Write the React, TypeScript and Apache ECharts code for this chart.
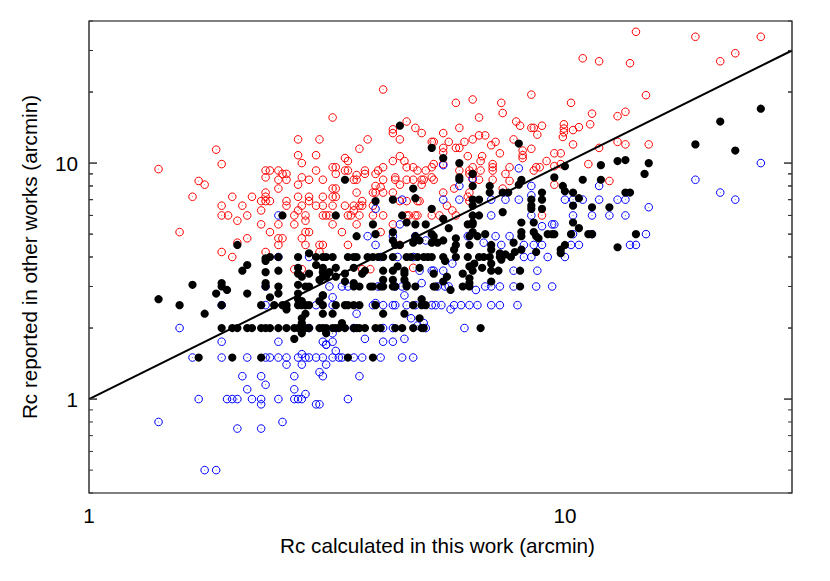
import React, { useEffect, useRef } from "react";
import * as echarts from "echarts";

type P = [number, number];

const redPoints: P[] = [
[1.4,9.43],[1.85,11.4],[1.9,9.9],[1.7,8.4],[1.75,8.1],[1.65,7.2],[1.55,5.1],[1.9,6.6],[1.9,6],[1.96,6],[2,7.2],[2.1,6.6],[2.15,6],[2.2,7.2],[2.05,5.7],[2.3,6.3],[2.3,6.9],[2.3,5.5],[2.35,7.5],[2.35,7.2],[2.35,6.9],[2.4,6.9],[2.35,8.7],[2.35,9.3],[2.4,9.3],[2.5,9.3],[2.5,8.5],[2.5,7.8],[2.55,9],[2.6,9],[2.6,8.5],[2.6,6.9],[2.6,6.6],[2.5,5.5],[2.4,5.1],[2.5,4.8],[2.55,4.8],[2.5,4.5],[2.15,4.8],[2.05,4.6],[1.9,4.2],[2,4],[2.35,4.2],
[2.75,12.6],[3.05,12.6],[2.75,10.8],[3,10.8],[2.8,10],[3,9.3],[2.8,8.7],[2.75,8.1],[2.9,8.5],[3.1,8.5],[2.75,7.2],[2.9,7.2],[2.9,6.9],[3.1,7.2],[2.8,6.6],[3,6.6],[3.1,6.6],[2.75,6.3],[2.7,6],[2.85,6],[3.1,6],[3.15,6],[2.85,5.7],[2.7,5.5],[2.85,5.1],[2.9,5.1],[2.8,4.8],[2.85,4.5],[3.05,4.5],[3.1,4.5],[3.05,4.2],
[4.15,20.5],[3.25,15.6],[4.65,15],[4.35,13.9],[4.35,13.4],[4.85,14.1],[5,13.4],[4.5,12.6],[3.85,12.6],[3.7,11.5],[5.25,12.3],[5.3,12.3],[5.55,13.4],[6,14.1],[5.9,18],[6.4,18.6],[6.6,15.6],[7.35,18],[7.4,16.3],[8.5,19.5],[7.9,15],[8.05,14.4],[8.5,14.1],[8.6,14.1],[8.95,14.4],[8.75,13.2],[7.8,12.6],[8.5,11.5],[8.15,11.3],[8.15,10.8],[8.15,10.5],[6.4,12.6],[6.6,13.1],[6.8,13.1],[6.15,12.3],[5.7,12.3],[7.15,12.3],[7,11.9],[5.9,11.6],[6,11.6],[5.55,11.6],[5.55,11.1],[6.25,10.7],[6.7,10.7],[7.3,11],[4.5,10.7],[4.6,10.2],[4.35,10.2],[3.45,10.5],[3.5,10.2],
[3.25,9.6],[3.3,9.6],[3.3,9],[3.45,9.3],[3.5,9.3],[3.8,9.3],[3.8,9],[4.05,9.3],[4.15,9.6],[4,9],[4.65,9.6],[4.8,9.6],[4.9,9.3],[5.1,9.3],[5.25,9.6],[5.3,9.9],[5.55,9.9],[6,9.3],[6.65,10.2],[6.4,9.6],[6.3,9.3],[6.3,9],[6.4,9],[6.65,9.3],[7.05,9.9],[7.05,9.6],[7.05,9.3],[7.65,9.6],[7.5,9],[7.65,8.4],[7.05,8.5],[8.7,9.6],[8.85,9.6],[9.15,10.2],[9.5,11],[8.6,9.3],[6.4,8.5],[6.6,8.5],[3.65,8.9],[3.6,8.5],[3.65,8.5],[4.4,8.7],[4.4,8.5],[4.15,8.5],[4.5,8.1],[4.65,8.5],[4.8,8.5],[5,8.5],[5,8.1],[5.05,8.5],[5.25,8.7],[5.3,8.5],
[4,8],[4.1,7.9],[3.95,7.5],[4,7.5],[4.15,7.5],[4.35,7.5],[3.25,7.8],[3.3,7.8],[3.25,7.2],[3.3,7.2],[3.65,7.5],[3.45,6.6],[3.25,6.6],[3.6,6.6],[3.75,6.9],[3.75,6.6],[3.7,6.6],[3.6,6.3],[3.2,6],[3.5,6],[3.55,6],[3.7,6],[3.95,6.6],[3.95,6],[4.15,6],[4.5,6.9],[4.65,6.9],[4.9,6.9],[4.95,6.9],[4.65,6],[4.7,6],[4.85,6],[4.9,6],[5.25,6],[5.45,6],[5.65,6.6],[5.8,6.3],[5.9,6],[5.55,7.5],[5.85,7.8],[6.25,7.2],[6.3,7.5],[6.3,6.9],[7.4,7.8],[8.95,6],[3.25,5.5],[3.4,5.1],[3.65,5.5],[3.5,4.5],[4.1,5.1],[4.35,5.5],[4.5,4.5],[2.7,3.55],[2.8,3.55],[3.1,3.2],[3.9,3.55],[3.75,3.55],[4.8,3.6],
[14.1,36],[18.8,34.3],[25.8,34.3],[22.8,29.2],[21.2,27],[10.9,27.8],[11.8,27],[13.7,26.5],[14.8,19.4],[10.3,18],[11.4,16.2],[13.4,16.5],[12.9,15.8],[11.3,14.6],[9.95,14.6],[9.95,14],[9.95,13.5],[9.9,12.9],[10.4,13.8],[10.7,14.2],[10.4,12],[11.8,11.6],[12.9,12.3],[13.4,12],[15,12],[9.8,11],[9.8,9.9],[9.5,9.7],[11.2,9.9],[12.4,8.4],[9.5,8.1],
];

const bluePoints: P[] = [
[2.5,6],[2.5,4],[2.9,4],[4.55,7],[4,6.4],[5.55,9.8],[5.55,7],[6,7],[6,8],[6.4,8.6],[8,9.5],[7,7],[8,7],[7.5,7],[8.5,8],[8.5,7.3],[7,6],[8.5,6],[9.4,5.5],[8.95,5.4],[4.5,5.5],[3.85,4.9],[4.35,4.9],[4.85,4.9],[4,4.5],[5.1,4.7],[6.25,4.9],[7.15,4.9],[7.65,4.9],[6.75,4.6],[7.35,4.5],[8.2,4.5],[8.6,4.5],[8.95,4.5],[4.45,4],[4.8,4],[4.1,4],[8.5,4],[8.2,4],[9.2,4],
[25.8,10],[18.8,8.5],[21.2,7.5],[22.8,7],[11.8,8],[10,7],[10.4,7],[10.9,7],[11.8,7],[12.9,7],[13.4,7],[15,6.5],[10.4,6],[11.4,6],[12.4,6],[13.4,6],[9.5,5.5],[10.4,5],[11.4,5],[14.8,5],[10.3,4.5],[10.7,4.5],[13.7,4.5],[14.1,4.5],[10,4],
[1.55,2],[1.65,1.5],[1.9,1.5],[2.15,1.5],[2.35,1.5],[2.4,1.5],[2.5,1.5],[2.6,1.5],[2.75,1.5],[2.85,1.5],[2.9,1.5],[3,1.5],[3.1,1.5],[2.8,1.55],[2.6,1.4],[2.8,1.4],[3.15,1.4],[3.05,1.3],[3.1,1.25],[1.9,1.75],[2.5,1.75],[3.1,1.75],[3.15,1.7],[1.9,2.5],[2.35,2.5],[3,2.5],[2.35,3],[3.2,3],[2.1,1.25],[2.3,1.25],[2.7,1.25],[2.35,1.15],[2.15,1.1],[2.7,1.1],[2.85,1.05],[1.7,1],[1.95,1],[2,1],[2.05,1],[2.2,1],[2.3,1],[2.5,1],[2.7,1],[2.75,1],[2.8,1],[2.3,0.95],[3,0.95],[1.4,0.8],[2.55,0.8],[2.05,0.75],[2.3,0.75],[1.75,0.5],[1.85,0.5],[2.9,2],
[3.4,3],[3.5,3],[4.05,3],[4.4,3],[4.55,3],[5.4,3],[5.6,3],[5.7,3],[6.8,3],[7,3],[7.3,3],[7.8,3],[8.7,3],[9.4,3],[6.5,2.9],[4.6,2.75],[3.25,2.7],[5,3.1],[5.8,3.75],[5.55,3.5],[5.25,3.5],[5.3,3.5],[4.95,3.5],[7.8,3.5],[8.75,3.5],
[3.95,2.5],[4.15,2.5],[4.35,2.5],[4.4,2.5],[4.65,2.5],[4.85,2.5],[5.25,2.5],[5.35,2.5],[5.5,2.5],[5.85,2.5],[6.05,2.5],[6.3,2.5],[6.55,2.5],[7,2.5],[7.3,2.5],[7.95,2.5],[3.25,2.5],[4,2.55],[5.75,2.4],[3.65,2.3],[4.75,2.2],[5.05,2.1],[4.9,2.05],[3.6,2],[4.15,2],[4.35,2],[5.1,2],[6.15,2],[3.25,1.9],[3.8,1.8],[4.6,1.8],[4.15,1.75],[4.35,1.75],[3.25,1.75],[3.15,1.7],[3.3,1.6],
[3.25,1.5],[3.35,1.5],[3.4,1.5],[3.6,1.5],[3.75,1.5],[4.1,1.5],[4.55,1.5],[4.8,1.5],[3.7,1.25],[3.5,1],[3.05,0.95],
];

const blackPoints: P[] = [
[2.05,4.5],[2.55,6],[2.35,3.95],[2.4,4],[2.5,4],[2.75,4],[2.9,4.15],[3,4],[3.1,4],[3.15,4],
[4.5,14.4],[5.25,11.6],[5.55,10.5],[6,10],[6.4,9],[8,12.1],[3.45,8.5],[6,8.7],[6,8.5],[4.8,7.8],[4.85,7.1],[4.35,7],[4,6.9],[3.3,6],[5.25,6.4],[6.4,8],[6.95,8],[6.95,7.5],[7.4,7.5],[7.6,7.5],[8,8.1],[8.1,8.5],[6.4,7],[6.6,7],[6.4,6.6],[8.5,7],[8.5,6.6],[8.5,6.4],[8.95,7.5],[8.95,7],[8.95,6.4],[7.4,6.2],[6.4,6],[6.6,6],[5.55,5.8],[4.55,6],[4.65,5.6],[4.85,5.5],[5.1,5.5],[5.7,5.3],[6.25,5.5],[6.4,5.6],[6.4,5.5],[6.4,5.1],[3.95,5.5],[4,5],[3.65,4.9],[4.35,5.1],[8.1,5.6],[8.1,5.1],[8.1,4.9],[8.6,5.6],[8.6,5.1],[8.7,4.9],[8.8,4.8],[9.2,5],[9.4,5],[6.3,4.9],[6.55,4.9],[6.8,5],[5.25,5],[5.3,4.9],[4.85,4.9],[4.8,4.6],[4.95,4.7],[4.35,4.7],[4.4,4.5],[4.5,4.5],[5.25,4.6],[5.55,4.7],[5.4,4.6],[5.9,4.8],[5.9,4.5],[5.85,4.3],[6.3,4.5],[7,4.5],[7,4.3],[7.8,4.6],[8.1,4.3],[7.85,4.2],[7.3,4.15],[7.5,4.1],[8.7,4.2],
[3.25,4],[3.5,4],[3.6,4],[3.65,4],[3.85,4],[3.95,4],[4.05,4],[4.15,4],[4.35,4],[4.65,4],[4.75,4],[4.9,4],[5.05,4],[5.15,4],[5.25,4],[5.55,4],[5.9,4],[6.25,4],[6.6,4],[6.75,4],[6.95,4],[7.3,4],[7.7,4],[5.6,3.85],[7.35,3.9],
[25.8,17],[21.2,15],[18.8,12],[22.8,11.3],[15,10],[12.9,10.2],[13.4,10.3],[11.9,9.8],[10,9.7],[14.7,9],[11.9,8.5],[10.9,8.5],[9.5,8.7],[9.9,8],[10,7.6],[10.4,7.5],[10.7,7.1],[13.4,7.5],[13.7,7.5],[10.4,6.6],[11.4,6.5],[12.4,6.5],[10.4,5.6],[10.7,5.3],[9.5,5],[10.3,5],[11.2,5],[11.4,5],[14.1,5],[12.9,4.4],[10,4.5],[9.8,4.3],[9.8,4.15],
[1.4,2.65],[1.55,2.5],[1.65,3.05],[1.75,2.3],[1.9,3.1],[1.9,3],[1.95,2.9],[1.85,2.8],[2.15,2.8],[2.1,3.5],[2.15,3.7],[1.9,2.5],[2.3,2.5],[2.35,3.45],[2.35,3.85],[2.35,3.1],[2.35,3],[2.5,3.5],[2.5,3],[2.5,2.8],[2.4,2.7],[2.45,2.5],[2.55,2.5],[2.6,2.5],[2.6,2.4],[2.75,3.6],[2.75,3.4],[2.8,3.3],[2.75,3.05],[2.75,2.8],[2.75,2.65],[2.75,2.5],[2.8,2.6],[2.85,3],[2.9,3],[2.9,3.4],[3,3.7],[3.05,3.2],[3.1,3.3],[3.15,3.3],[3.05,2.6],[3.1,2.75],[3.1,2.5],[2.8,2.5],[2.85,2.5],[2.9,2.5],[3.1,2.3],[2.85,2.3],[2.8,2.2],[2.8,2.1],
[1.9,2],[2,2],[2.05,2],[2.15,2],[2.2,2],[2.3,2],[2.35,2],[2.4,2],[2.5,2],[2.6,2],[2.7,2],[2.75,2],[2.8,2],[2.85,2],[2.9,2],[3.1,2],[3.15,2],[2.8,1.9],[2.7,1.8],[3.15,1.9],[1.7,1.5],[2,1.5],[2.3,1.5],
[4.95,3.6],[3.6,3.6],[3.1,3.6],[3.3,3.6],[3.2,3.45],[3.1,3.45],[3.3,3.3],[3.45,3.4],[3.8,3.5],[3.75,3.4],[4.45,3.65],[4.35,3.5],[4.15,3.5],[4.15,3.2],[4.6,3.5],[4.6,3.4],[4.6,3.2],[4.65,3.05],[4.35,3.2],[5.3,3.4],[5.65,3.3],[5.55,3.15],[6.1,3.4],[6.3,3.65],[6.45,3.75],[6.7,3.6],[6.3,3.25],[6.3,3.1],[6.3,3],[6.4,3.5],[7,3.75],[7,3.5],[7.25,3.5],[8.05,3.5],[7,3.15],[3.45,3.15],
[3.6,3.1],[3.6,3],[3.7,3],[3.9,3],[3.95,3],[4.1,3],[4.15,3],[4.35,3],[4.4,3],[4.65,3],[4.85,3],[5.3,3],[5.35,3],[6.1,3],[8.05,3],[5.75,2.9],
[3.1,2.75],[3.3,2.5],[3.45,2.5],[3.5,2.5],[3.6,2.5],[3.7,2.5],[4,2.5],[4.8,2.5],[5,2.5],[5.1,2.5],[5,2.65],[3.25,2.3],[4.15,2.3],[4.6,2.3],[4.95,2.2],[3.4,2.1],
[3.05,2],[3.25,2],[3.3,2],[3.35,2],[3.45,2],[3.6,2],[3.65,2],[3.7,2],[3.8,2],[4,2],[4.1,2],[4.4,2],[4.55,2],[4.8,2],[5,2],[5.05,2],[6.65,2],[3.5,1.5],[3.95,1.5],
];

const diagonal: P[] = [[1, 1], [30, 30]];
const xMajorTicks = [1, 10];
const xMinorTicks = [2, 3, 4, 5, 6, 7, 8, 9, 20, 30];
const yMajorTicks = [1, 10];
const yMinorTicks = [0.4, 0.5, 0.6, 0.7, 0.8, 0.9, 2, 3, 4, 5, 6, 7, 8, 9, 20, 30, 40];
const xTitle = "Rc calculated in this work (arcmin)";
const yTitle = "Rc reported in other works (arcmin)";

const FONT = "'Liberation Sans', Arial, sans-serif";
const FS = 20.7;

export default function App() {
  const ref = useRef<HTMLDivElement>(null);
  useEffect(() => {
    document.body.style.margin = "0";
    const chart = echarts.init(ref.current!, null, { renderer: "svg" });
    const XMIN = 1, XMAX = 30, YMIN = 0.4, YMAX = 40;
    const tickData: any[] = [
      ...xMajorTicks.map((v) => ["x", v, 8]),
      ...xMinorTicks.map((v) => ["x", v, 4]),
      ...yMajorTicks.map((v) => ["y", v, 8]),
      ...yMinorTicks.map((v) => ["y", v, 4]),
    ];
    const label = (v: number) =>
      Math.abs(v - 1) < 1e-6 ? "1" : Math.abs(v - 10) < 1e-6 ? "10" : "";
    const open = (data: P[], color: string) => [
      {
        type: "scatter", data, symbol: "circle", symbolSize: 7.6,
        itemStyle: { color: "rgba(0,0,0,0)", borderColor: color, borderWidth: 1, opacity: 1 },
        silent: true,
      },
      {
        type: "scatter", data, symbol: "circle", symbolSize: 1,
        itemStyle: { color, opacity: 0.6 }, silent: true,
      },
    ];
    chart.setOption({
      animation: false,
      backgroundColor: "#fff",
      grid: { left: 89, top: 21, width: 703, height: 472, show: true, borderColor: "#000", borderWidth: 1.2, backgroundColor: "transparent" },
      xAxis: {
        type: "log", logBase: 10, min: XMIN, max: XMAX,
        name: xTitle, nameLocation: "middle", nameGap: 42,
        nameTextStyle: { fontFamily: FONT, fontSize: FS, color: "#000", padding: [0, 6, 0, 0] },
        axisLine: { show: false }, axisTick: { show: false }, splitLine: { show: false },
        axisLabel: { formatter: label, fontFamily: FONT, fontSize: FS, color: "#000", margin: 12, hideOverlap: false },
      },
      yAxis: {
        type: "log", logBase: 10, min: YMIN, max: YMAX,
        name: yTitle, nameLocation: "middle", nameGap: 49,
        nameTextStyle: { fontFamily: FONT, fontSize: FS, color: "#000" },
        axisLine: { show: false }, axisTick: { show: false }, splitLine: { show: false },
        axisLabel: { formatter: label, fontFamily: FONT, fontSize: FS, color: "#000", margin: 11, hideOverlap: false },
      },
      series: [
        ...open(redPoints, "#ff0000"),
        ...open(bluePoints, "#0000ff"),
        {
          type: "line", data: diagonal, showSymbol: false, silent: true,
          lineStyle: { color: "#000", width: 2 },
        },
        {
          type: "scatter", data: blackPoints, symbol: "circle", symbolSize: 8.2,
          itemStyle: { color: "#000", opacity: 1 }, silent: true,
        },
        {
          type: "custom", silent: true, clip: false, data: tickData, z: 5,
          encode: { x: [], y: [] },
          renderItem: (_p: any, api: any) => {
            const axis = api.value(0);
            const v = api.value(1);
            const len = api.value(2);
            const lines: any[] = [];
            const style = { stroke: "#333", lineWidth: 1 };
            if (axis === "x") {
              const [x0, y0] = api.coord([v, YMIN]);
              const [, y1] = api.coord([v, YMAX]);
              lines.push(
                { type: "line", shape: { x1: x0, y1: y0, x2: x0, y2: y0 - len }, style },
                { type: "line", shape: { x1: x0, y1: y1, x2: x0, y2: y1 + len }, style }
              );
            } else {
              const [x0, y0] = api.coord([XMIN, v]);
              const [x1] = api.coord([XMAX, v]);
              lines.push(
                { type: "line", shape: { x1: x0, y1: y0, x2: x0 + len, y2: y0 }, style },
                { type: "line", shape: { x1: x1, y1: y0, x2: x1 - len, y2: y0 }, style }
              );
            }
            return { type: "group", children: lines };
          },
        },
      ],
    });
    return () => chart.dispose();
  }, []);
  return <div ref={ref} style={{ width: 830, height: 581, position: "absolute", left: 0, top: 0 }} />;
}
